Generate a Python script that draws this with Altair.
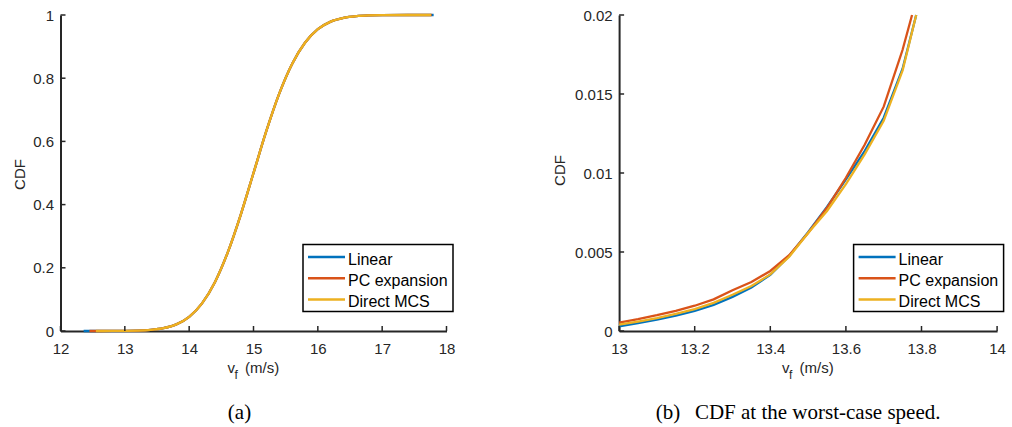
import altair as alt
import pandas as pd

SERIES = ["Linear", "PC expansion", "Direct MCS"]
COLORS = ["#0072BD", "#D95319", "#EDB120"]
AXIS_COLOR = "#262626"

# ---------------- panel (a): full CDF ----------------
A_V = [12.8, 13.0, 13.2, 13.4, 13.6, 13.8, 14.0, 14.2, 14.4, 14.6, 14.8, 15.0,
       15.2, 15.4, 15.6, 15.8, 16.0, 16.2, 16.4, 16.6, 16.8, 17.0, 17.4]
A_CDF = [0.0001, 0.00035, 0.0011, 0.0034, 0.0089, 0.021, 0.045, 0.0876, 0.1546, 0.249,
         0.367, 0.500, 0.633, 0.751, 0.845, 0.912, 0.955, 0.979, 0.991, 0.9966,
         0.9989, 0.9997, 1.0]
A_START = [12.36, 12.45, 12.55]   # first sample of each series (CDF = 0)
A_END = [17.80, 17.77, 17.76]     # last sample of each series (CDF = 1)
A_XTICKS = [12, 13, 14, 15, 16, 17, 18]
A_YTICKS = [0, 0.2, 0.4, 0.6, 0.8, 1]

# ---------------- panel (b): zoom on the lower tail ----------------
B_V_LIN = [13.0, 13.05, 13.1, 13.15, 13.2, 13.25, 13.3, 13.35, 13.4, 13.45, 13.5,
           13.55, 13.6, 13.65, 13.7, 13.75, 13.786]
B_CDF_LIN = [0.00030, 0.00050, 0.00072, 0.00098, 0.00127, 0.00165, 0.00216, 0.00275,
             0.00356, 0.00475, 0.00625, 0.00785, 0.00960, 0.01140, 0.01350, 0.01660, 0.02000]
B_V_PC = [13.0, 13.05, 13.1, 13.15, 13.2, 13.25, 13.3, 13.35, 13.4, 13.45, 13.5,
          13.55, 13.6, 13.65, 13.7, 13.75, 13.775]
B_CDF_PC = [0.00053, 0.00075, 0.00100, 0.00128, 0.00160, 0.00200, 0.00258, 0.00310,
            0.00380, 0.00480, 0.00620, 0.00780, 0.00970, 0.01180, 0.01420, 0.01780, 0.02000]
B_V_MCS = [13.0, 13.05, 13.1, 13.15, 13.2, 13.25, 13.3, 13.35, 13.4, 13.45, 13.5,
           13.55, 13.6, 13.65, 13.7, 13.75, 13.786]
B_CDF_MCS = [0.00040, 0.00060, 0.00082, 0.00108, 0.00138, 0.00178, 0.00229, 0.00285,
             0.00358, 0.00470, 0.00620, 0.00760, 0.00930, 0.01120, 0.01330, 0.01650, 0.02000]
B_XTICKS = [13, 13.2, 13.4, 13.6, 13.8, 14]
B_YTICKS = [0, 0.005, 0.01, 0.015, 0.02]

CAPTION_A = "(a)"
CAPTION_B = "(b)\u2002\u2009CDF at the worst-case speed."
X_TITLE = ["v", "f", "(m/s)"]
Y_TITLE = "CDF"

rows_a = []
for s, x0, x1 in zip(SERIES, A_START, A_END):
    rows_a.append({"series": s, "v": x0, "cdf": 0.0})
    for v, c in zip(A_V, A_CDF):
        rows_a.append({"series": s, "v": v, "cdf": c})
    rows_a.append({"series": s, "v": x1, "cdf": 1.0})
df_a = pd.DataFrame(rows_a)

rows_b = []
for s, vs, cs in zip(SERIES, [B_V_LIN, B_V_PC, B_V_MCS], [B_CDF_LIN, B_CDF_PC, B_CDF_MCS]):
    for v, c in zip(vs, cs):
        rows_b.append({"series": s, "v": v, "cdf": c})
df_b = pd.DataFrame(rows_b)


def panel(df, xdom, ydom, xticks, yticks, w, h, interp, caption, cap_x, title_x, title_y):
    xs = alt.Scale(domain=xdom, nice=False, zero=False)
    ys = alt.Scale(domain=ydom, nice=False, zero=False)
    color = alt.Color("series:N", scale=alt.Scale(domain=SERIES, range=COLORS), legend=None)

    lines = alt.Chart(df).mark_line(strokeWidth=2.3, interpolate=interp).encode(
        x=alt.X("v:Q", scale=xs,
                axis=alt.Axis(values=xticks, format="~g", title=None, labelPadding=10,
                              labelFlush=False)),
        y=alt.Y("cdf:Q", scale=ys,
                axis=alt.Axis(values=yticks, format="~g", title=Y_TITLE, labelPadding=7,
                              labelFlush=False,
                              titleAngle=270, titleX=title_x, titleY=title_y,
                              titleBaseline="alphabetic", titleAlign="center")),
        color=color,
        order=alt.Order("v:Q"),
    )

    xt = alt.Chart(pd.DataFrame({"t": xticks})).mark_rule(
        color=AXIS_COLOR, strokeWidth=1.5).encode(
        x=alt.X("t:Q", scale=xs), y=alt.value(h), y2=alt.value(h - 5))
    yt = alt.Chart(pd.DataFrame({"t": yticks})).mark_rule(
        color=AXIS_COLOR, strokeWidth=1.5).encode(
        y=alt.Y("t:Q", scale=ys), x=alt.value(0), x2=alt.value(5))

    # legend (boxed, lower right)
    box_r = w + 6.5
    box_l = box_r - 150
    box = alt.Chart(pd.DataFrame({"k": [0]})).mark_rect(
        fill="white", stroke="black", strokeWidth=1.5).encode(
        x=alt.value(box_l), x2=alt.value(box_r), y=alt.value(229.5), y2=alt.value(296.5))
    leg = [box]
    for i, (s, c) in enumerate(zip(SERIES, COLORS)):
        ry = 242 + 21.2 * i
        leg.append(alt.Chart(pd.DataFrame({"s": [s]})).mark_rule(
            color=c, strokeWidth=2.5).encode(
            x=alt.value(box_l + 5), x2=alt.value(box_l + 42), y=alt.value(ry)))
        leg.append(alt.Chart(pd.DataFrame({"s": [s]})).mark_text(
            align="left", baseline="alphabetic", font="Liberation Sans", fontSize=16,
            color="black").encode(
            text="s:N", x=alt.value(box_l + 45), y=alt.value(ry + 8)))

    cx = w / 2
    xt_v = alt.Chart(pd.DataFrame({"s": [X_TITLE[0]]})).mark_text(
        align="left", baseline="alphabetic", font="Liberation Sans", fontSize=15,
        color=AXIS_COLOR).encode(text="s:N", x=alt.value(cx - 26), y=alt.value(h + 42))
    xt_f = alt.Chart(pd.DataFrame({"s": [X_TITLE[1]]})).mark_text(
        align="left", baseline="alphabetic", font="Liberation Sans", fontSize=12,
        color=AXIS_COLOR).encode(text="s:N", x=alt.value(cx - 19), y=alt.value(h + 48))
    xt_u = alt.Chart(pd.DataFrame({"s": [X_TITLE[2]]})).mark_text(
        align="left", baseline="alphabetic", font="Liberation Sans", fontSize=15,
        color=AXIS_COLOR).encode(text="s:N", x=alt.value(cx - 8.5), y=alt.value(h + 42))

    cap = alt.Chart(pd.DataFrame({"s": [caption]})).mark_text(
        align="center", baseline="alphabetic", font="Liberation Serif", fontSize=21,
        color="black").encode(text="s:N", x=alt.value(cap_x), y=alt.value(h + 88))

    return alt.layer(lines, xt, yt, *leg, xt_v, xt_f, xt_u, cap).properties(width=w, height=h)


left = panel(df_a, [12, 18], [0, 1], A_XTICKS, A_YTICKS, 386, 316, "monotone",
             CAPTION_A, 179, -35.7, 159)
right = panel(df_b, [13, 14], [0, 0.02], B_XTICKS, B_YTICKS, 378, 316, "linear",
              CAPTION_B, 179, -54.3, 155)

chart = alt.hconcat(left, right, spacing=172.6, bounds="flush").properties(
    padding={"left": 12.5, "top": 8, "right": 4, "bottom": 4},
).configure_view(stroke=None).configure_axis(
    grid=False, ticks=False, domainColor=AXIS_COLOR, domainWidth=2,
    labelColor=AXIS_COLOR, labelFont="Liberation Sans", labelFontSize=15,
    titleColor=AXIS_COLOR, titleFont="Liberation Sans", titleFontSize=15,
    titleFontWeight="normal",
)

chart.save("out.html", embed_options={"renderer": "svg", "actions": False})
